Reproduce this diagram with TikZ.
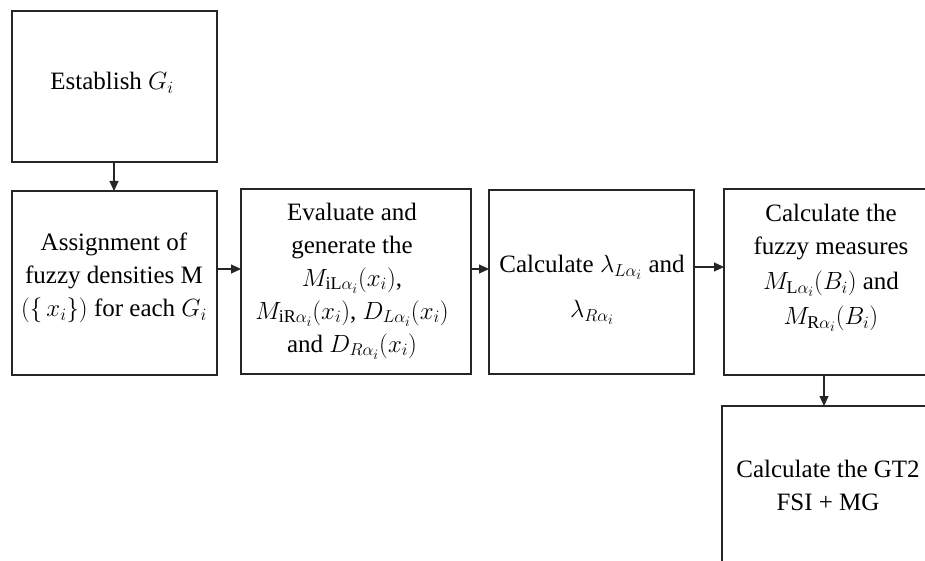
\documentclass[tikz,border=0pt]{standalone}
\usepackage{fontspec}
\setmainfont{Liberation Serif}
\DeclareMathSizes{25}{25}{18}{14}
\usetikzlibrary{arrows.meta}
\begin{document}
\begin{tikzpicture}[x=1pt,y=-1pt,
  box/.style={draw=black!85, line width=2.2pt, inner sep=0pt, outer sep=0pt, fill=white},
  txt/.style={align=center, inner sep=0pt, font=\fontsize{25}{33}\selectfont},
  arr/.style={draw=black!85, line width=1.2pt, -{Triangle[length=10pt,width=9pt]}}]
\useasboundingbox (0,0) rectangle (925,561);
\clip (0,0) rectangle (925,561);
\fill[white] (0,0) rectangle (925,561);
% boxes
\node[box, minimum width=205pt, minimum height=151pt] (b1) at (114.5,86.5) {};
\node[box, minimum width=205pt, minimum height=184pt] (b2) at (114.5,283) {};
\node[box, minimum width=230pt, minimum height=185pt] (b3) at (356,281.5) {};
\node[box, minimum width=205pt, minimum height=184pt] (b4) at (591.5,282) {};
\node[box, minimum width=211pt, minimum height=186pt] (b5) at (829.5,282) {};
\node[box, minimum width=213pt, minimum height=194pt] (b6) at (828.5,503) {};
% texts
\node[txt] (t1) at (112,83) {Establish $G_i$};
\node[txt] (t2) at (114,278) {Assignment of\\ fuzzy densities M\\ $(\{\,x_i\})$ for each $G_i$};
\node[txt] (t3) at (352,281) {Evaluate and\\ generate the\\ $M_{\mathrm{iL}\alpha_i}(x_i)$,\\ $M_{\mathrm{iR}\alpha_i}(x_i)$, $D_{L\alpha_i}(x_i)$\\ and $D_{R\alpha_i}(x_i)$};
\node[txt] (t4) at (592,290) {Calculate $\lambda_{L\alpha_i}$ and\\[12pt] $\lambda_{R\alpha_i}$};
\node[txt] (t5) at (831,268) {Calculate the\\ fuzzy measures\\[2pt] $M_{\mathrm{L}\alpha_i}(B_i)$ and\\[2pt] $M_{\mathrm{R}\alpha_i}(B_i)$};
\node[txt] (t6) at (828,485) {Calculate the GT2\\ FSI + MG};
% connectors
\draw[arr] ([xshift=-0.5pt]b1.south) -- ([xshift=-0.5pt]b2.north);
\draw[arr] ([yshift=14pt]b2.east) -- ([yshift=12.5pt]b3.west);
\draw[arr] ([yshift=12.5pt]b3.east) -- ([yshift=13pt]b4.west);
\draw[arr] ([yshift=15pt]b4.east) -- ([yshift=15pt]b5.west);
\draw[arr] ([xshift=-5.5pt]b5.south) -- ([xshift=-4.5pt]b6.north);
\end{tikzpicture}
\end{document}
